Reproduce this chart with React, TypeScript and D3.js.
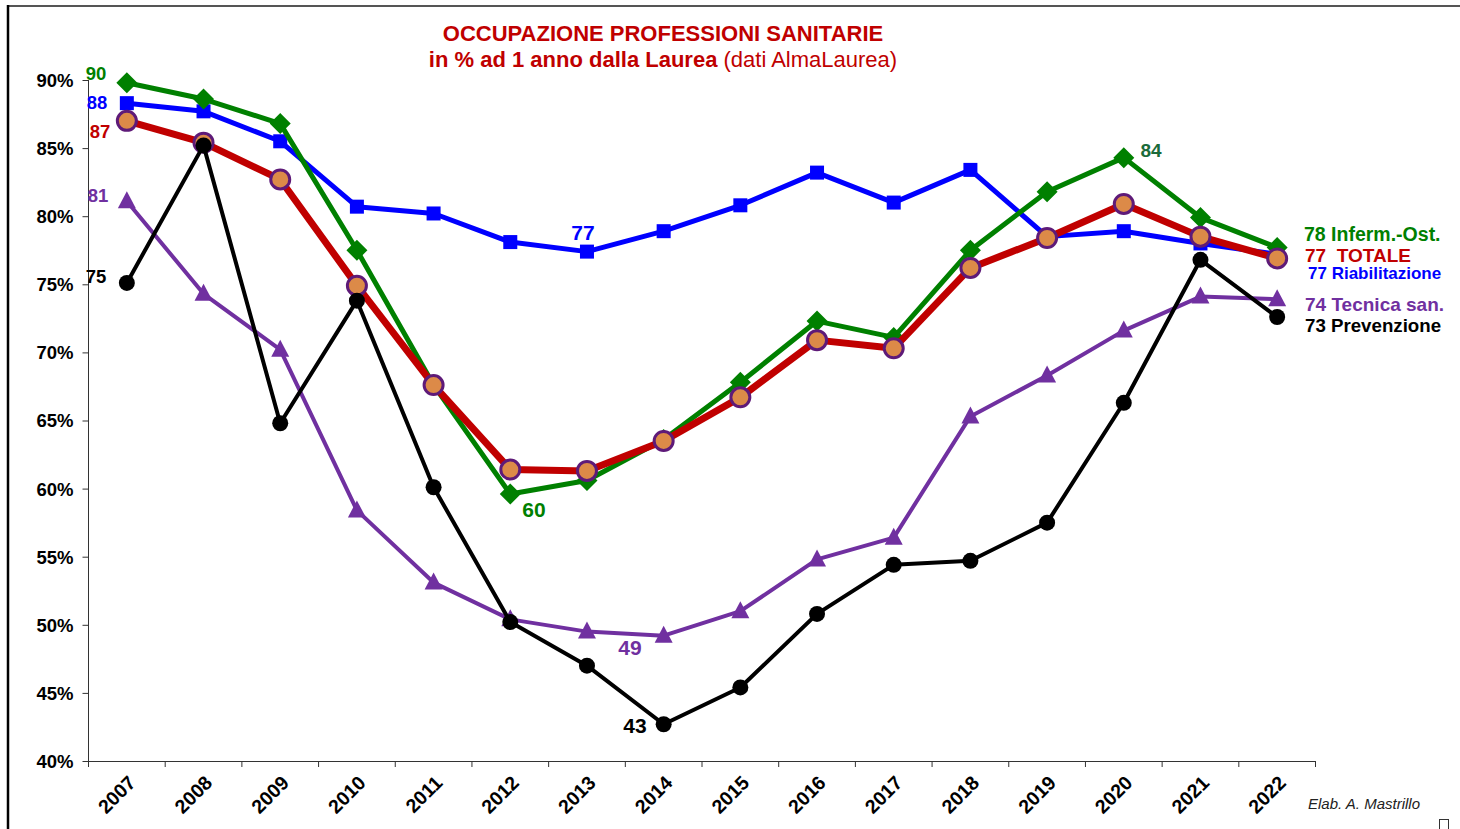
import { useEffect, useRef } from "react";
import * as d3 from "d3";

// ─── Data ─────────────────────────────────────────────────────────────────────

const YEARS = [
  "2007", "2008", "2009", "2010", "2011", "2012", "2013", "2014",
  "2015", "2016", "2017", "2018", "2019", "2020", "2021", "2022",
];

const INFERM = [89.8, 88.6, 86.8, 77.5, 67.6, 59.6, 60.6, 63.6, 67.8, 72.3, 71.1, 77.5, 81.8, 84.3, 79.9, 77.7];
const RIABIL = [88.3, 87.7, 85.5, 80.7, 80.2, 78.1, 77.4, 78.9, 80.8, 83.2, 81.0, 83.4, 78.5, 78.9, 78.0, 77.2];
const TOTALE = [87.0, 85.4, 82.7, 74.9, 67.6, 61.4, 61.3, 63.5, 66.7, 70.9, 70.3, 76.2, 78.4, 80.9, 78.5, 76.9];
const TECNICA = [81.1, 74.3, 70.2, 58.4, 53.1, 50.4, 49.5, 49.2, 51.0, 54.8, 56.4, 65.3, 68.3, 71.6, 74.1, 73.9];
const PREVENZ = [75.1, 85.2, 64.8, 73.8, 60.1, 50.2, 47.0, 42.7, 45.4, 50.8, 54.4, 54.7, 57.5, 66.3, 76.8, 72.6];

const Y_TICKS = [40, 45, 50, 55, 60, 65, 70, 75, 80, 85, 90];

// ─── Palette ──────────────────────────────────────────────────────────────────

const GREEN = "#008000";
const BLUE = "#0000FF";
const RED = "#C00000";
const PURPLE = "#7030A0";
const BLACK = "#000000";
const ORANGE = "#DC8A48";
const PLUM = "#5E1A78";
const FONT = "'Liberation Sans', Arial, sans-serif";

type Marker = "diamond" | "square" | "circle" | "triangle" | "dot";

interface Series {
  values: number[];
  color: string;
  width: number;
  marker: Marker;
}

// drawing order: bottom → top
const SERIES: Series[] = [
  { values: TECNICA, color: PURPLE, width: 4, marker: "triangle" },
  { values: RIABIL, color: BLUE, width: 5, marker: "square" },
  { values: INFERM, color: GREEN, width: 5, marker: "diamond" },
  { values: TOTALE, color: RED, width: 7, marker: "circle" },
  { values: PREVENZ, color: BLACK, width: 4, marker: "dot" },
];

export default function App() {
  const svgRef = useRef<SVGSVGElement>(null);

  useEffect(() => {
    if (!svgRef.current) return;
    const W = 1460,
      H = 829;
    const svg = d3.select(svgRef.current);
    svg.selectAll("*").remove();

    // frame
    svg.append("line").attr("x1", 8).attr("x2", W).attr("y1", 6).attr("y2", 6)
      .attr("stroke", "#555").attr("stroke-width", 2);
    svg.append("line").attr("x1", 8).attr("x2", 8).attr("y1", 5).attr("y2", H)
      .attr("stroke", "#000").attr("stroke-width", 2.5);

    const x = d3.scaleBand().domain(YEARS).range([88.5, 1315.5]);
    const y = d3.scaleLinear().domain([40, 90]).range([761, 80]);
    const cx = (i: number) => x(YEARS[i])! + x.bandwidth() / 2;

    // y axis
    const yAxis = svg.append("g").attr("transform", "translate(88.5,0)")
      .call(d3.axisLeft(y).tickValues(Y_TICKS).tickSize(6).tickFormat((d) => `${d}%`));
    yAxis.select(".domain").attr("stroke", "#333").attr("d", `M0,${y(40)}V${y(90)}`);
    yAxis.selectAll(".tick line").attr("stroke", "#333");
    yAxis.selectAll(".tick text")
      .attr("font-family", FONT).attr("font-size", 18.5).attr("font-weight", "bold")
      .attr("fill", "#000").attr("x", -15).attr("dy", "0.35em");

    // x axis
    svg.append("line").attr("x1", 88.5).attr("x2", 1315.5).attr("y1", 761.5).attr("y2", 761.5)
      .attr("stroke", "#333").attr("stroke-width", 1);
    const bounds = YEARS.map((yr) => x(yr)!).concat([x.range()[1]]);
    svg.append("g").selectAll("line").data(bounds).join("line")
      .attr("x1", (d) => d).attr("x2", (d) => d).attr("y1", 761).attr("y2", 767)
      .attr("stroke", "#333");
    svg.append("g").selectAll("text").data(YEARS).join("text")
      .attr("transform", (d) => `translate(${x(d)! + x.bandwidth() / 2 + 10},${784}) rotate(-45)`)
      .attr("text-anchor", "end")
      .attr("font-family", FONT).attr("font-size", 19.5).attr("font-weight", "bold")
      .text((d) => d);

    // lines + markers
    const line = d3.line<number>().x((_, i) => cx(i)).y((d) => y(d));
    SERIES.forEach((s) => {
      const g = svg.append("g");
      g.append("path").attr("d", line(s.values)).attr("fill", "none")
        .attr("stroke", s.color).attr("stroke-width", s.width).attr("stroke-linejoin", "round");
      const pts = g.selectAll("g.m").data(s.values).join("g")
        .attr("transform", (d, i) => `translate(${cx(i)},${y(d)})`);
      if (s.marker === "diamond") {
        pts.append("path").attr("d", "M0,-10.5L10.5,0L0,10.5L-10.5,0Z").attr("fill", s.color);
      } else if (s.marker === "square") {
        pts.append("rect").attr("x", -7).attr("y", -7).attr("width", 14).attr("height", 14).attr("fill", s.color);
      } else if (s.marker === "triangle") {
        pts.append("path").attr("d", "M0,-10L9,7L-9,7Z").attr("fill", s.color);
      } else if (s.marker === "circle") {
        pts.append("circle").attr("r", 9.5).attr("fill", ORANGE).attr("stroke", PLUM).attr("stroke-width", 3);
      } else {
        pts.append("circle").attr("r", 8).attr("fill", s.color);
      }
    });

    // value labels
    const lab = (t: string, lx: number, ly: number, color: string, size = 19, anchor = "start") =>
      svg.append("text").attr("x", lx).attr("y", ly).attr("fill", color)
        .attr("font-family", FONT).attr("font-size", size).attr("font-weight", "bold")
        .attr("text-anchor", anchor).style("white-space", "pre").text(t);

    lab(String(Math.round(INFERM[0])), 96, 80, GREEN, 18.5, "middle");
    lab(String(Math.round(RIABIL[0])), 97, 109, BLUE, 18.5, "middle");
    lab(String(Math.round(TOTALE[0])), 100, 138, RED, 18.5, "middle");
    lab(String(Math.round(TECNICA[0])), 98, 202, PURPLE, 18.5, "middle");
    lab(String(Math.round(PREVENZ[0])), 96, 283, BLACK, 18.5, "middle");
    lab(String(Math.round(RIABIL[6])), 583, 240, BLUE, 21, "middle");
    lab(String(Math.round(INFERM[5])), 534, 517, GREEN, 21, "middle");
    lab(String(Math.round(TECNICA[7])), 630, 655, PURPLE, 21, "middle");
    lab(String(Math.round(PREVENZ[7])), 635, 733, BLACK, 21, "middle");
    lab(String(Math.round(INFERM[13])), 1151, 157, "#1B6B3A", 19, "middle");

    // right-hand legend labels
    lab(`${Math.round(INFERM[15])} Inferm.-Ost.`, 1304, 241, GREEN, 19.5);
    lab(`${Math.round(TOTALE[15])}  TOTALE`, 1305, 262, RED, 19);
    lab(`${Math.round(RIABIL[15])} Riabilitazione`, 1308, 279, BLUE, 17);
    lab(`${Math.round(TECNICA[15])} Tecnica san.`, 1305, 311, PURPLE, 19);
    lab(`${Math.round(PREVENZ[15])} Prevenzione`, 1305, 332, BLACK, 18.7);

    // title
    svg.append("text").attr("x", 663).attr("y", 41).attr("text-anchor", "middle")
      .attr("font-family", FONT).attr("fill", RED).attr("font-size", 22).attr("font-weight", "bold")
      .text("OCCUPAZIONE PROFESSIONI SANITARIE");
    const t2 = svg.append("text").attr("x", 663).attr("y", 67).attr("text-anchor", "middle")
      .attr("font-family", FONT).attr("fill", RED).attr("font-size", 22);
    t2.append("tspan").attr("font-weight", "bold").text("in % ad 1 anno dalla Laurea ");
    t2.append("tspan").text("(dati AlmaLaurea)");

    // credit
    svg.append("text").attr("x", 1308).attr("y", 809).attr("font-family", FONT)
      .attr("font-size", 15).attr("font-style", "italic").attr("fill", "#222")
      .text("Elab. A. Mastrillo");
    svg.append("rect").attr("x", 1439.5).attr("y", 819.5).attr("width", 9).attr("height", 11)
      .attr("fill", "none").attr("stroke", "#333");
  }, []);

  return (
    <svg
      ref={svgRef}
      width={1460}
      height={829}
      style={{ position: "fixed", left: 0, top: 0, background: "#fff", display: "block" }}
    />
  );
}
